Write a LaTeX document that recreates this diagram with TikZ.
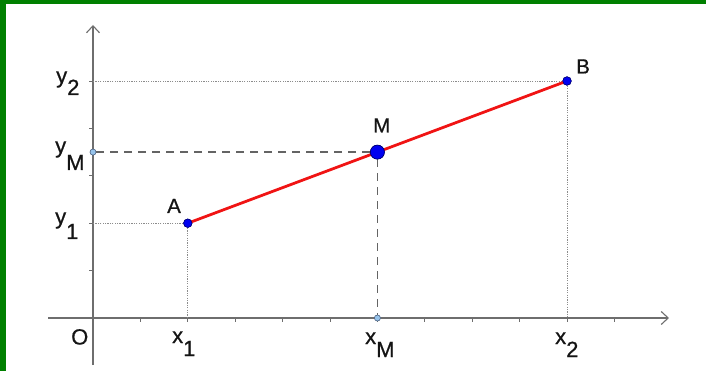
\documentclass[tikz,border=0pt]{standalone}
\usepackage{fontspec}
\setmainfont{Liberation Sans}
\newfontfamily\lblfont[FakeBold=0.7]{Liberation Sans}
\usetikzlibrary{arrows.meta}
\definecolor{frame}{RGB}{0,128,0}
\definecolor{axisgray}{RGB}{110,110,110}
\definecolor{dotgray}{RGB}{140,140,140}
\definecolor{dashgray}{RGB}{100,100,100}
\definecolor{ptblue}{RGB}{0,0,240}
\definecolor{ptedge}{RGB}{0,0,110}
\definecolor{lightpt}{RGB}{150,195,235}
\definecolor{lightedge}{RGB}{80,100,130}
\definecolor{segred}{RGB}{240,20,20}
\definecolor{txt}{RGB}{20,20,20}
\tikzset{
  axisline/.style={axisgray, line width=1.6pt, -{Straight Barb[length=7pt,width=13pt,line width=1.1pt]}},
  tickmark/.style={axisgray, line width=0.9pt},
  dotline/.style={dotgray, line width=0.8pt, dash pattern=on 1.2pt off 1.2pt},
  dashline/.style={dashgray, line width=1.3pt, dash pattern=on 8pt off 6pt},
  segment/.style={segred, line width=2.8pt},
  bigpt/.style={circle, fill=ptblue, draw=ptedge, line width=0.5pt, inner sep=0pt, minimum size=8.5pt},
  midpt/.style={circle, fill=ptblue, draw=ptedge, line width=0.6pt, inner sep=0pt, minimum size=14pt},
  smallpt/.style={circle, fill=lightpt, draw=lightedge, line width=0.5pt, inner sep=0pt, minimum size=6pt},
  ptlabel/.style={anchor=base west, inner sep=0pt, text=txt, font=\lblfont\fontsize{20.5}{23}\selectfont},
  axlabel/.style={anchor=base west, inner sep=0pt, text=txt, font=\lblfont\fontsize{22}{25}\selectfont},
}
\begin{document}
\begin{tikzpicture}[x=1pt,y=-1pt]
\useasboundingbox (0,0) rectangle (706,371);
% frame
\fill[frame] (0,0) rectangle (706,4);
\fill[frame] (0,0) rectangle (6,371);
% axis coordinates
\coordinate (O) at (93,318);
\coordinate (xstart) at (48,318);
\coordinate (xend) at (669,318);
\coordinate (ystart) at (93,365);
\coordinate (yend) at (93,25);
\coordinate (x1f) at (187.8,318);
\coordinate (x2f) at (567,318);
\coordinate (y1f) at (93,223.2);
\coordinate (y2f) at (93,81);
% ticks
\foreach \k in {1,...,11} \draw[tickmark] (93+\k*47.4,318) -- ++(0,4);
\foreach \k in {1,...,5} \draw[tickmark] (93,318-\k*47.4) -- ++(-4,0);
% axes
\draw[axisline] (xstart) -- (xend);
\draw[axisline] (ystart) -- (yend);
% points
\node[bigpt] (A) at (187.8,223.2) {};
\node[bigpt] (B) at (567,81) {};
\node[smallpt] (xM) at (377.4,318) {};
\node[smallpt] (yM) at (93,152.1) {};
% dotted projections
\draw[dotline] (A.center) -- (y1f);
\draw[dotline] (A.center) -- (x1f);
\draw[dotline] (B.center) -- (y2f);
\draw[dotline] (B.center) -- (x2f);
% segment
\draw[segment] (A.center) -- (B.center);
\node[midpt] (M) at (377.4,152.1) {};
% dashed projections
\draw[dashline] (M) -- (yM);
\draw[dashline] (M) -- (xM);
% redraw points on top
\node[bigpt] at (A) {};
\node[bigpt] at (B) {};
\node[midpt] at (M) {};
\node[smallpt] at (xM) {};
\node[smallpt] at (yM) {};
% labels
\node[ptlabel] (lA) at (167,213) {A};
\node[ptlabel] (lB) at (576,73.5) {B};
\node[ptlabel] (lM) at (373,132.5) {M};
\node[axlabel] (lO) at (71,344.5) {O};
\node[axlabel] (lx1) at (172,343) {x\raisebox{-13pt}{1}};
\node[axlabel] (lxM) at (365,344) {x\raisebox{-13pt}{M}};
\node[axlabel] (lx2) at (555,344) {x\raisebox{-13pt}{2}};
\node[axlabel] (ly2) at (56,83) {y\raisebox{-12pt}{2}};
\node[axlabel] (lyM) at (55,153) {y\raisebox{-17pt}{M}};
\node[axlabel] (ly1) at (55,224) {y\raisebox{-15pt}{1}};
\end{tikzpicture}
\end{document}
